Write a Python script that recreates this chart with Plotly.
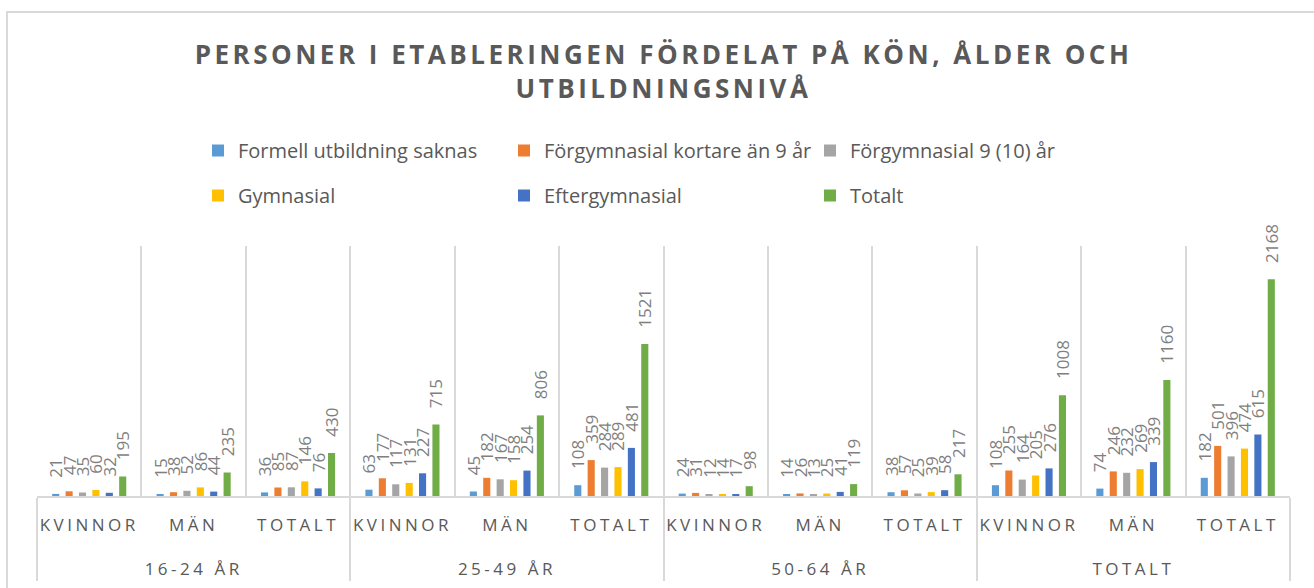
import plotly.graph_objects as go

# ---- data ----
age_groups = ["16-24 ÅR", "16-24 ÅR", "16-24 ÅR",
              "25-49 ÅR", "25-49 ÅR", "25-49 ÅR",
              "50-64 ÅR", "50-64 ÅR", "50-64 ÅR",
              "TOTALT", "TOTALT", "TOTALT"]
genders = ["KVINNOR", "MÄN", "TOTALT"] * 4

series_names = ["Formell utbildning saknas", "Förgymnasial kortare än 9 år",
                "Förgymnasial 9 (10) år", "Gymnasial", "Eftergymnasial", "Totalt"]

formell = [21, 15, 36, 63, 45, 108, 24, 14, 38, 108, 74, 182]
forgym_kort = [47, 38, 85, 177, 182, 359, 31, 26, 57, 255, 246, 501]
forgym_9 = [35, 52, 87, 117, 167, 284, 12, 13, 25, 164, 232, 396]
gymnasial = [60, 86, 146, 131, 158, 289, 14, 25, 39, 205, 269, 474]
eftergym = [32, 44, 76, 227, 254, 481, 17, 41, 58, 276, 339, 615]
totalt = [195, 235, 430, 715, 806, 1521, 98, 119, 217, 1008, 1160, 2168]

colors = ["#5B9BD5", "#ED7D31", "#A5A5A5", "#FFC000", "#4472C4", "#70AD47"]
all_values = [formell, forgym_kort, forgym_9, gymnasial, eftergym, totalt]

FONT = "Open Sans"
TXT = "#595959"
GRID = "#d9d9d9"

# inner labels get an invisible second line so the outer level sits lower
SPACER = "<br><span style='font-size:40px'>\u00a0</span>"
genders_disp = [g + SPACER for g in genders]

fig = go.Figure()
for i, (name, vals, col) in enumerate(zip(series_names, all_values, colors)):
    fig.add_trace(go.Bar(
        name=name,
        x=[age_groups, genders_disp],
        y=vals,
        marker=dict(color=col, line=dict(width=0)),
        text=vals,
        texttemplate="\u00a0\u00a0\u00a0%{text}",
        textposition="outside",
        textangle=-90,
        constraintext="none",
        cliponaxis=False,
        textfont=dict(family=FONT, size=17, color="#7f7f7f"),
        legend="legend" if i < 3 else "legend2",
    ))

L, R, T, B = 37, 24, 246, 92
W, H = 1314, 588
pw, ph = W - L - R, H - T - B

def px_x(x):
    return (x - L) / pw

def px_y(y):
    return (H - B - y) / ph

legend_common = dict(
    orientation="h", xanchor="left", yanchor="top",
    entrywidth=261, entrywidthmode="pixels",
    font=dict(family=FONT, size=20, color=TXT), bgcolor="rgba(0,0,0,0)",
)

fig.update_layout(
    width=W, height=H,
    margin=dict(l=L, r=R, t=T, b=B, autoexpand=False),
    paper_bgcolor="white", plot_bgcolor="white",
    barmode="group", bargap=0.23, bargroupgap=0.47,
    title=dict(
        text="PERSONER I ETABLERINGEN FÖRDELAT PÅ KÖN, ÅLDER OCH<br>UTBILDNINGSNIVÅ",
        x=0.5, xref="paper", xanchor="center",
        y=1 - 64 / H, yref="container", yanchor="top",
        font=dict(family=FONT, size=26, color=TXT, weight="bold"),
    ),
    legend=dict(x=px_x(198), y=px_y(131), **legend_common),
    legend2=dict(x=px_x(198), y=px_y(176), **legend_common),
    showlegend=True,
    xaxis=dict(
        type="multicategory",
        showgrid=True, gridcolor=GRID, gridwidth=2,
        tickson="boundaries", ticks="",
        showline=True, linecolor=GRID, linewidth=2,
        showdividers=True, dividercolor=GRID, dividerwidth=2,
        tickfont=dict(family=FONT, size=17, color=TXT),
        ticklabelstandoff=13,
        zeroline=False,
    ),
    yaxis=dict(range=[0, 2500], visible=False, showgrid=False, zeroline=False),
    shapes=[dict(
        type="rect", xref="paper", yref="paper",
        x0=px_x(7), x1=px_x(1330), y0=px_y(600), y1=px_y(12),
        line=dict(color=GRID, width=2), fillcolor="rgba(0,0,0,0)", layer="below",
    )],
)

post = """
document.body.style.margin = '0';
var gd = document.getElementById('{plot_id}');
gd.querySelectorAll('.gtitle').forEach(function(e){ e.style.letterSpacing = '3.5px'; });
gd.querySelectorAll('.xaxislayer-above text').forEach(function(e){ e.style.letterSpacing = '3.5px'; });
"""

fig.write_html("out.html", post_script=post, config={"displayModeBar": False})
